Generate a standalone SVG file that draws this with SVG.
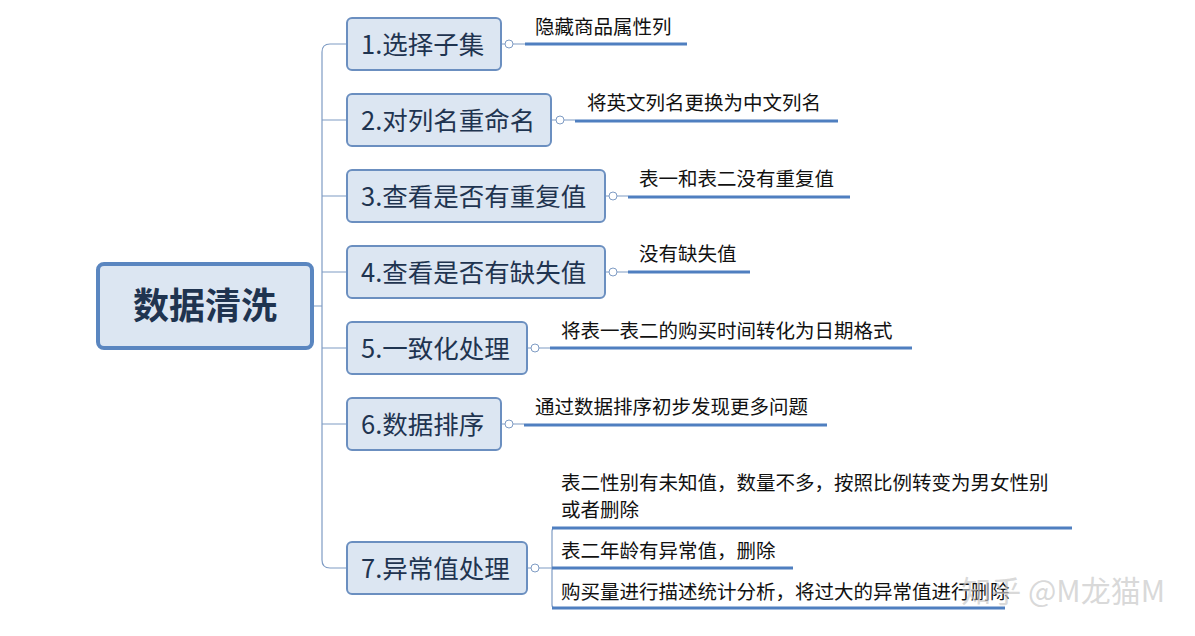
<svg xmlns="http://www.w3.org/2000/svg" width="1195" height="636" viewBox="0 0 1195 636">
<style>
.n{fill:#dce6f2;stroke:#6b8fc0;stroke-width:2}
.t{font-family:"Noto Sans CJK SC",sans-serif;fill:#1f3450;font-size:25.5px}
.l{font-family:"Noto Sans CJK SC",sans-serif;fill:#111;font-size:19.5px}
.c{fill:none;stroke:#7f9cc4;stroke-width:1.2}
.u{stroke:#4f7fc0;stroke-width:3}
.o{fill:#fff;stroke:#7f9cc4;stroke-width:1}
</style>
<rect width="1195" height="636" fill="#fff"/>
<g id="connectors">
<path class="c" d="M312 306H322M347 44H330Q322 44 322 52V560Q322 568 330 568H347M322 120H347M322 196H347M322 272H347M322 348H347M322 424H347"/>
<path class="c" d="M501 44H525M551 120H575M605 196H628M605 272H628M527 348H550M501 424H524M527 568H552M560 528H555Q552 528 552 531V605Q552 608 555 608H560"/>
<g class="u"><line x1="525" y1="44" x2="687" y2="44"/><line x1="575" y1="121" x2="838" y2="121"/><line x1="628" y1="197" x2="850" y2="197"/><line x1="628" y1="272" x2="750" y2="272"/><line x1="550" y1="348" x2="912" y2="348"/><line x1="524" y1="425" x2="827" y2="425"/><line x1="552" y1="528" x2="1072" y2="528"/><line x1="552" y1="568" x2="793" y2="568"/><line x1="552" y1="608" x2="1005" y2="608"/></g>
<g class="o"><circle cx="509" cy="44" r="4"/><circle cx="560" cy="120" r="4"/><circle cx="613" cy="196" r="4"/><circle cx="613" cy="272" r="4"/><circle cx="535" cy="348" r="4"/><circle cx="509" cy="424" r="4"/><circle cx="535" cy="568" r="4"/></g>
</g>
<g id="root"><rect x="98" y="264" width="214" height="84" rx="6" class="n" style="stroke-width:4;stroke:#5a86c0"/><text x="205" y="319" text-anchor="middle" class="t" style="font-size:36px;font-weight:bold">数据清洗</text></g>
<g id="n1"><rect x="347" y="18" width="154" height="52" rx="5" class="n"/><text x="361" y="54" class="t">1.选择子集</text><text x="535" y="34" class="l">隐藏商品属性列</text></g>
<g id="n2"><rect x="347" y="94" width="204" height="52" rx="5" class="n"/><text x="361" y="130" class="t">2.对列名重命名</text><text x="587" y="110" class="l">将英文列名更换为中文列名</text></g>
<g id="n3"><rect x="347" y="170" width="258" height="52" rx="5" class="n"/><text x="361" y="206" class="t">3.查看是否有重复值</text><text x="639" y="186" class="l">表一和表二没有重复值</text></g>
<g id="n4"><rect x="347" y="246" width="258" height="52" rx="5" class="n"/><text x="361" y="282" class="t">4.查看是否有缺失值</text><text x="639" y="261" class="l">没有缺失值</text></g>
<g id="n5"><rect x="347" y="322" width="180" height="52" rx="5" class="n"/><text x="361" y="358" class="t">5.一致化处理</text><text x="561" y="338" class="l">将表一表二的购买时间转化为日期格式</text></g>
<g id="n6"><rect x="347" y="398" width="154" height="52" rx="5" class="n"/><text x="361" y="434" class="t">6.数据排序</text><text x="535" y="414" class="l">通过数据排序初步发现更多问题</text></g>
<g id="n7"><rect x="347" y="542" width="180" height="52" rx="5" class="n"/><text x="361" y="578" class="t">7.异常值处理</text>
<text x="561" y="490" class="l">表二性别有未知值，数量不多，按照比例转变为男女性别</text><text x="561" y="517" class="l">或者删除</text>
<text x="561" y="558" class="l">表二年龄有异常值，删除</text><text x="561" y="599" class="l">购买量进行描述统计分析，将过大的异常值进行删除</text></g>
<text x="1165" y="602" text-anchor="end" font-family="Noto Sans CJK SC,sans-serif" font-size="30" fill="#c8c8c8" fill-opacity="0.7">知乎 @M龙猫M</text>
</svg>
